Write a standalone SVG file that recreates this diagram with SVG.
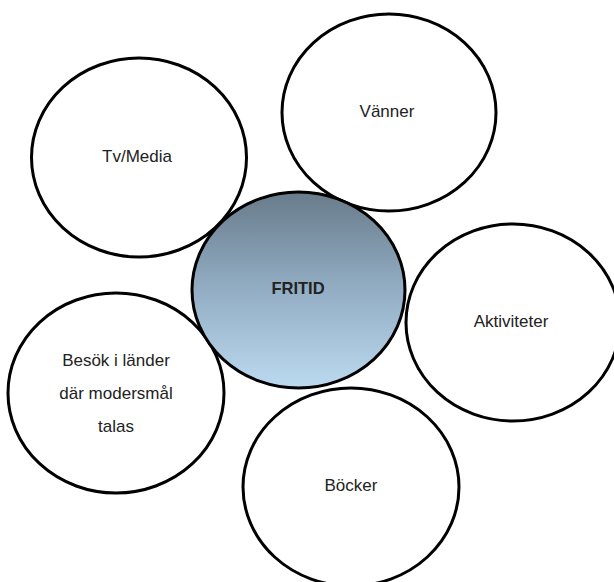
<svg xmlns="http://www.w3.org/2000/svg" width="614" height="582" viewBox="0 0 614 582">
<defs>
<linearGradient id="g" x1="0" y1="0" x2="0" y2="1">
<stop offset="0" stop-color="#687b8a"/>
<stop offset="0.5" stop-color="#93aec4"/>
<stop offset="1" stop-color="#bbd9ef"/>
</linearGradient>
<style>
.n{fill:#fff;stroke:#000;stroke-width:3}
.c{fill:url(#g);stroke:#000;stroke-width:3}
.t{font-family:"Liberation Sans",Arial,sans-serif;font-size:17px;fill:#222;text-anchor:middle}
.b{font-weight:bold;font-size:16.5px}
</style>
</defs>
<g id="connectors"></g>
<g id="tvmedia"><ellipse class="n" cx="139" cy="157.5" rx="107.5" ry="99.5"/><text class="t" x="137" y="162">Tv/Media</text></g>
<g id="vanner"><ellipse class="n" cx="389" cy="112.5" rx="107" ry="98.5"/><text class="t" x="387" y="117">Vänner</text></g>
<g id="aktiviteter"><ellipse class="n" cx="513" cy="322.5" rx="107" ry="98.5"/><text class="t" x="511" y="327">Aktiviteter</text></g>
<g id="besok"><ellipse class="n" cx="116" cy="393" rx="108" ry="100"/><text class="t" x="116" y="366">Besök i länder</text><text class="t" x="116" y="399">där modersmål</text><text class="t" x="116" y="432">talas</text></g>
<g id="bocker"><ellipse class="n" cx="351" cy="487" rx="108" ry="99"/><text class="t" x="351" y="491">Böcker</text></g>
<g id="fritid"><ellipse class="c" cx="298.5" cy="290" rx="106.5" ry="98"/><text class="t b" x="298" y="294">FRITID</text></g>
</svg>
